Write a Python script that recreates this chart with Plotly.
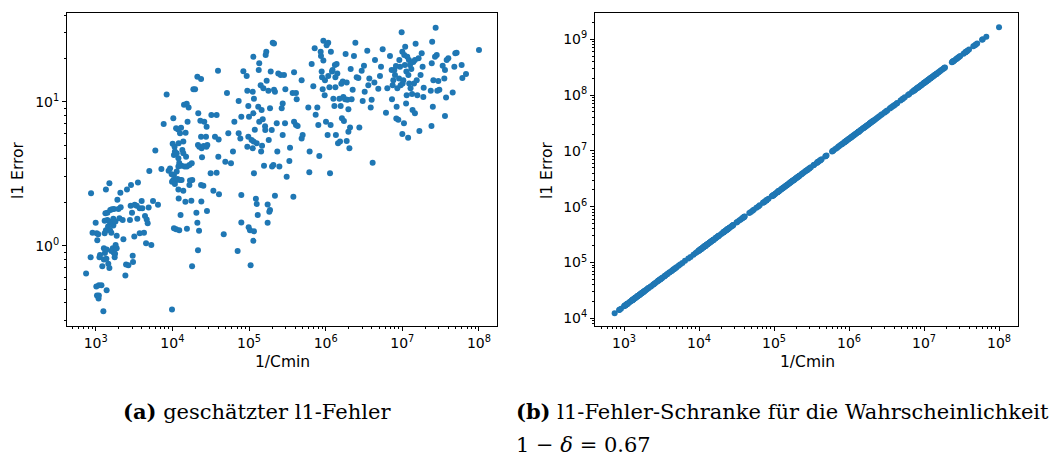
import plotly.graph_objects as go

# 1/Cmin values (shared by both panels)
cmin_inv = [
    750, 870, 860, 910, 1000, 1030, 1050, 1080, 1020, 1100,
    1190, 1040, 1090, 1100, 1260, 1390, 1140, 1120, 1220, 1280,
    1320, 1380, 1460, 1510, 1280, 1390, 1360, 1510, 1340, 1420,
    1310, 1360, 1450, 1540, 1600, 1700, 1550, 1630, 1730, 1310,
    1420, 1510, 1620, 1700, 1810, 1670, 1600, 1730, 1790, 1770,
    1880, 1820, 1880, 1920, 1980, 2040, 2120, 2100, 2250, 2300,
    2440, 2490, 2670, 2560, 2890, 2860, 2800, 2980, 3040, 3070,
    3190, 3230, 3430, 3490, 3560, 3750, 3750, 3980, 4060, 4270,
    4400, 4540, 4630, 4770, 4910, 5010, 5320, 5600, 6000, 6500,
    8430, 7710, 7200, 8950, 9330, 9800, 10300, 10100, 10700, 9900,
    10300, 10500, 10800, 11200, 11400, 11900, 12100, 12600, 13000, 12000,
    12300, 12000, 11400, 10500, 11400, 10800, 11700, 12600, 13200, 12000,
    12100, 12800, 10500, 11200, 12300, 14200, 15400, 16300, 15800, 14900,
    13900, 13500, 13900, 15100, 13200, 14500, 15500, 16700, 17900, 17000,
    18200, 13900, 14800, 17700, 16700, 15500, 18800, 19800, 21200, 23700,
    21800, 23200, 26100, 28000, 21600, 22500, 24100, 25600, 27800, 28600,
    23700, 27500, 24400, 23700, 25400, 23900, 20600, 21200, 22300, 21600,
    18100, 28300, 31600, 32300, 36000, 40200, 37800, 39400, 39800, 37800,
    34300, 40600, 46800, 51600, 49100, 53700, 58200, 61800, 64400, 9900,
    71100, 73300, 73300, 77100, 79400, 79400, 79400, 84400, 93300, 95100,
    98000, 100000, 98000, 95100, 99000, 103000, 105000, 108000, 112000, 114000,
    112000, 116000, 114000, 119000, 115000, 116000, 114000, 116000, 123000, 126000,
    130000, 126000, 132000, 136000, 134000, 136000, 142000, 146000, 144000, 148000,
    151000, 154000, 157000, 162000, 163000, 165000, 168000, 170000, 179000, 181000,
    175000, 188000, 175000, 184000, 188000, 192000, 204000, 212000, 200000, 198000,
    212000, 218000, 208000, 218000, 230000, 234000, 241000, 249000, 259000, 267000,
    275000, 286000, 298000, 275000, 295000, 310000, 336000, 343000, 371000, 387000,
    387000, 410000, 410000, 419000, 379000, 431000, 486000, 486000, 501000, 594000,
    618000, 612000, 657000, 690000, 719000, 741000, 778000, 802000, 826000, 869000,
    861000, 896000, 914000, 933000, 887000, 933000, 971000, 980000, 1.03e6, 1.01e6,
    1.06e6, 1.08e6, 1.08e6, 1.12e6, 1.14e6, 1.16e6, 1.17e6, 1.21e6, 1.23e6, 1.26e6,
    1.30e6, 1.32e6, 1.34e6, 1.34e6, 1.36e6, 1.39e6, 1.42e6, 1.45e6, 1.51e6, 1.54e6,
    1.57e6, 1.60e6, 1.63e6, 1.67e6, 1.70e6, 1.73e6, 1.79e6, 1.82e6, 1.88e6, 1.88e6,
    1.92e6, 1.98e6, 1.98e6, 2.04e6, 2.08e6, 2.12e6, 2.18e6, 2.25e6, 2.34e6, 2.44e6,
    2.54e6, 2.67e6, 2.75e6, 2.95e6, 3.04e6, 3.16e6, 3.23e6, 3.49e6, 3.60e6, 3.71e6,
    3.87e6, 3.98e6, 4.10e6, 4.32e6, 4.40e6, 4.86e6, 5.11e6, 5.27e6, 5.54e6, 6.12e6,
    6.37e6, 6.90e6, 7.26e6, 7.33e6, 7.63e6, 7.48e6, 7.87e6, 8.02e6, 8.26e6, 8.35e6,
    8.43e6, 8.87e6, 8.61e6, 9.06e6, 9.14e6, 9.33e6, 9.51e6, 9.80e6, 1.00e7, 1.00e7,
    1.01e7, 1.03e7, 1.05e7, 1.06e7, 1.08e7, 1.09e7, 1.12e7, 1.13e7, 1.14e7, 1.16e7,
    1.19e7, 1.20e7, 1.22e7, 1.23e7, 1.26e7, 1.28e7, 1.31e7, 1.34e7, 1.36e7, 1.39e7,
    1.42e7, 1.46e7, 1.46e7, 1.49e7, 1.54e7, 1.57e7, 1.63e7, 1.67e7, 1.73e7, 1.79e7,
    1.84e7, 1.88e7, 1.90e7, 2.35e7, 2.40e7, 2.45e7, 2.50e7, 2.42e7, 2.54e7, 2.67e7,
    2.72e7, 2.81e7, 2.86e7, 2.95e7, 3.04e7, 3.36e7, 3.53e7, 3.60e7, 3.60e7, 3.72e7,
    3.79e7, 3.98e7, 4.54e7, 4.77e7, 4.91e7, 5.11e7, 5.94e7, 6.07e7, 6.77e7, 1.00e8,
]

# (a) estimated l1 error
l1_error = [
    0.64, 2.31, 0.83, 1.23, 1.44, 1.22, 1.09, 1.20, 0.52, 0.53,
    0.53, 0.45, 0.43, 0.45, 0.35, 0.49, 0.86, 0.83, 0.72, 0.80,
    0.89, 0.81, 0.75, 0.70, 0.96, 0.94, 2.46, 2.71, 1.68, 1.69,
    1.22, 1.28, 1.36, 1.28, 1.23, 1.38, 1.77, 1.79, 1.80, 1.49,
    1.51, 1.47, 1.44, 1.54, 1.47, 0.96, 0.92, 0.89, 0.88, 0.83,
    0.96, 1.01, 1.17, 2.08, 1.80, 1.55, 1.85, 2.33, 1.51, 1.11,
    0.62, 0.74, 0.73, 2.46, 2.64, 1.89, 1.51, 1.69, 0.85, 0.77,
    1.16, 1.92, 1.89, 1.54, 2.75, 1.82, 1.22, 2.04, 1.82, 1.23,
    1.61, 1.04, 1.52, 1.43, 1.84, 3.30, 1.01, 2.04, 4.59, 1.92,
    11.2, 7.0, 3.41, 3.32, 3.44, 3.13, 7.66, 5.11, 4.87, 2.78,
    2.86, 4.26, 4.50, 6.53, 4.38, 6.42, 5.14, 6.03, 6.6, 4.04,
    3.75, 3.54, 3.27, 3.10, 2.86, 2.68, 2.9, 2.86, 2.86, 2.46,
    2.13, 1.63, 1.32, 1.30, 1.28, 9.53, 9.68, 9.13, 7.26, 6.09,
    5.28, 4.62, 4.38, 4.15, 3.59, 3.54, 3.54, 3.63, 3.73, 2.83,
    2.86, 2.41, 2.02, 2.05, 2.64, 1.31, 12.2, 12.2, 14.9, 14.4,
    8.3, 7.38, 7.26, 6.70, 5.0, 4.87, 4.74, 4.92, 4.87, 5.0,
    5.71, 5.71, 4.11, 2.64, 2.61, 2.03, 1.69, 1.44, 1.27, 0.93,
    0.72, 1.74, 3.18, 8.08, 5.71, 5.47, 8.08, 16.4, 4.15, 3.21,
    2.41, 2.28, 1.20, 11.5, 3.83, 6.03, 3.73, 4.50, 7.26, 0.36,
    0.92, 6.03, 10.1, 5.56, 7.87, 2.25, 1.45, 16.3, 15.1, 11.9,
    9.33, 7.87, 5.71, 4.87, 1.34, 1.28, 0.73, 5.42, 4.74, 20.5,
    11.7, 10.5, 8.3, 6.39, 5.28, 3.18, 1.08, 1.26, 2.12, 1.95,
    1.63, 5.14, 9.23, 7.26, 16.6, 18.5, 13.0, 8.75, 4.50, 4.95,
    7.54, 12.4, 3.59, 6.74, 6.36, 21.1, 22.2, 14.0, 11.9, 5.42,
    1.93, 1.77, 1.44, 1.72, 8.99, 16.2, 25.7, 25.4, 3.54, 6.36,
    12.1, 11.7, 3.63, 2.22, 7.07, 4.50, 15.7, 3.54, 15.3, 8.99,
    9.73, 15.3, 12.2, 5.87, 7.07, 3.01, 3.87, 4.79, 11.5, 16.0,
    7.26, 11.5, 6.89, 10.4, 2.19, 6.78, 14.1, 5.56, 5.87, 9.13,
    4.50, 3.23, 18.3, 12.8, 23.5, 8.12, 9.13, 6.89, 4.19, 20.8,
    22.2, 14.8, 12.2, 26.5, 16.2, 19.3, 11.1, 14.1, 24.7, 7.26,
    5.87, 25.7, 15.1, 12.6, 3.18, 6.89, 22.2, 16.2, 16.6, 10.5,
    9.33, 18.0, 14.8, 12.6, 5.87, 18.3, 15.7, 5.14, 10.5, 5.28,
    9.33, 13.3, 7.66, 13.8, 10.8, 7.34, 10.4, 21.4, 13.6, 5.33,
    10.3, 6.19, 8.85, 4.74, 6.63, 16.9, 10.4, 12.1, 20.8, 25.7,
    14.8, 14.6, 6.63, 16.4, 10.1, 17.8, 11.7, 22.6, 13.0, 14.5,
    9.13, 10.3, 3.77, 13.6, 19.5, 12.3, 15.1, 17.5, 23.1, 8.39,
    12.4, 20.8, 16.6, 10.4, 14.1, 13.0, 16.6, 15.3, 17.7, 7.63,
    9.23, 7.5, 12.4, 14.5, 19.5, 17.5, 13.0, 30.3, 22.2, 5.96,
    13.4, 14.1, 7.07, 21.1, 18.0, 24.1, 9.73, 16.2, 11.1, 20.5,
    5.62, 15.3, 19.5, 13.4, 18.0, 12.4, 16.9, 11.3, 8.75, 18.9,
    13.4, 8.3, 19.5, 25.3, 14.1, 11.1, 20.0, 6.26, 15.3, 21.7,
    17.5, 10.8, 12.5, 11.9, 6.78, 26.1, 9.23, 18.5, 14.1, 20.5,
    32.6, 21.1, 11.9, 13.9, 12.1, 17.8, 14.5, 16.6, 7.95, 10.7,
    19.5, 20.0, 11.6, 17.5, 21.7, 21.9, 18.0, 14.6, 15.6, 22.9,
]

# (b) l1 error bound for probability 1 - delta = 0.67
l1_bound = [
    1.23e4, 1.43e4, 1.41e4, 1.49e4, 1.64e4, 1.69e4, 1.72e4, 1.77e4, 1.67e4, 1.80e4,
    1.95e4, 1.71e4, 1.79e4, 1.80e4, 2.07e4, 2.28e4, 1.87e4, 1.84e4, 2.00e4, 2.10e4,
    2.16e4, 2.26e4, 2.39e4, 2.48e4, 2.10e4, 2.28e4, 2.23e4, 2.48e4, 2.20e4, 2.33e4,
    2.15e4, 2.23e4, 2.38e4, 2.53e4, 2.62e4, 2.79e4, 2.54e4, 2.67e4, 2.84e4, 2.15e4,
    2.33e4, 2.48e4, 2.66e4, 2.79e4, 2.97e4, 2.74e4, 2.62e4, 2.84e4, 2.94e4, 2.90e4,
    3.08e4, 2.98e4, 3.08e4, 3.15e4, 3.25e4, 3.35e4, 3.48e4, 3.44e4, 3.69e4, 3.77e4,
    4.00e4, 4.08e4, 4.38e4, 4.20e4, 4.74e4, 4.69e4, 4.59e4, 4.89e4, 4.99e4, 5.03e4,
    5.23e4, 5.30e4, 5.63e4, 5.72e4, 5.84e4, 6.15e4, 6.15e4, 6.53e4, 6.66e4, 7.00e4,
    7.22e4, 7.45e4, 7.59e4, 7.82e4, 8.05e4, 8.22e4, 8.72e4, 9.18e4, 9.84e4, 1.07e5,
    1.38e5, 1.26e5, 1.18e5, 1.47e5, 1.53e5, 1.61e5, 1.69e5, 1.66e5, 1.75e5, 1.62e5,
    1.69e5, 1.72e5, 1.77e5, 1.84e5, 1.87e5, 1.95e5, 1.98e5, 2.07e5, 2.13e5, 1.97e5,
    2.02e5, 1.97e5, 1.87e5, 1.72e5, 1.87e5, 1.77e5, 1.92e5, 2.07e5, 2.16e5, 1.97e5,
    1.98e5, 2.10e5, 1.72e5, 1.84e5, 2.02e5, 2.33e5, 2.53e5, 2.67e5, 2.59e5, 2.44e5,
    2.28e5, 2.21e5, 2.28e5, 2.48e5, 2.16e5, 2.38e5, 2.54e5, 2.74e5, 2.94e5, 2.79e5,
    2.98e5, 2.28e5, 2.43e5, 2.90e5, 2.74e5, 2.54e5, 3.08e5, 3.25e5, 3.48e5, 3.89e5,
    3.58e5, 3.80e5, 4.28e5, 4.59e5, 3.54e5, 3.69e5, 3.95e5, 4.20e5, 4.56e5, 4.69e5,
    3.89e5, 4.51e5, 4.00e5, 3.89e5, 4.17e5, 3.92e5, 3.38e5, 3.48e5, 3.66e5, 3.54e5,
    2.97e5, 4.64e5, 5.18e5, 5.30e5, 5.90e5, 6.59e5, 6.20e5, 6.46e5, 6.53e5, 6.20e5,
    5.63e5, 6.66e5, 7.68e5, 8.46e5, 8.05e5, 8.81e5, 9.54e5, 1.01e6, 1.06e6, 1.62e5,
    1.17e6, 1.20e6, 1.20e6, 1.26e6, 1.30e6, 1.30e6, 1.30e6, 1.38e6, 1.53e6, 1.56e6,
    1.61e6, 1.64e6, 1.61e6, 1.56e6, 1.62e6, 1.69e6, 1.72e6, 1.77e6, 1.84e6, 1.87e6,
    1.84e6, 1.90e6, 1.87e6, 1.95e6, 1.89e6, 1.90e6, 1.87e6, 1.90e6, 2.02e6, 2.07e6,
    2.13e6, 2.07e6, 2.16e6, 2.23e6, 2.20e6, 2.23e6, 2.33e6, 2.39e6, 2.36e6, 2.43e6,
    2.48e6, 2.53e6, 2.57e6, 2.66e6, 2.67e6, 2.71e6, 2.76e6, 2.79e6, 2.94e6, 2.97e6,
    2.87e6, 3.08e6, 2.87e6, 3.02e6, 3.08e6, 3.15e6, 3.35e6, 3.48e6, 3.28e6, 3.25e6,
    3.48e6, 3.58e6, 3.41e6, 3.58e6, 3.77e6, 3.84e6, 3.95e6, 4.08e6, 4.25e6, 4.38e6,
    4.51e6, 4.69e6, 4.89e6, 4.51e6, 4.84e6, 5.08e6, 5.51e6, 5.63e6, 6.08e6, 6.35e6,
    6.35e6, 6.72e6, 6.72e6, 6.87e6, 6.22e6, 7.07e6, 7.97e6, 7.97e6, 8.22e6, 9.74e6,
    1.01e7, 1.00e7, 1.08e7, 1.13e7, 1.18e7, 1.22e7, 1.28e7, 1.32e7, 1.35e7, 1.43e7,
    1.41e7, 1.47e7, 1.50e7, 1.53e7, 1.45e7, 1.53e7, 1.59e7, 1.61e7, 1.69e7, 1.66e7,
    1.74e7, 1.77e7, 1.77e7, 1.84e7, 1.87e7, 1.90e7, 1.92e7, 1.98e7, 2.02e7, 2.07e7,
    2.13e7, 2.16e7, 2.20e7, 2.20e7, 2.23e7, 2.28e7, 2.33e7, 2.38e7, 2.48e7, 2.53e7,
    2.57e7, 2.62e7, 2.67e7, 2.74e7, 2.79e7, 2.84e7, 2.94e7, 2.98e7, 3.08e7, 3.08e7,
    3.15e7, 3.25e7, 3.25e7, 3.35e7, 3.41e7, 3.48e7, 3.58e7, 3.69e7, 3.84e7, 4.00e7,
    4.17e7, 4.38e7, 4.51e7, 4.84e7, 4.99e7, 5.18e7, 5.30e7, 5.72e7, 5.90e7, 6.08e7,
    6.35e7, 6.53e7, 6.72e7, 7.08e7, 7.22e7, 7.97e7, 8.38e7, 8.64e7, 9.09e7, 1.00e8,
    1.04e8, 1.13e8, 1.19e8, 1.20e8, 1.25e8, 1.23e8, 1.29e8, 1.32e8, 1.35e8, 1.37e8,
    1.38e8, 1.45e8, 1.41e8, 1.49e8, 1.50e8, 1.53e8, 1.56e8, 1.61e8, 1.64e8, 1.64e8,
    1.66e8, 1.69e8, 1.72e8, 1.74e8, 1.77e8, 1.79e8, 1.84e8, 1.85e8, 1.87e8, 1.90e8,
    1.95e8, 1.97e8, 2.00e8, 2.02e8, 2.07e8, 2.10e8, 2.15e8, 2.20e8, 2.23e8, 2.28e8,
    2.33e8, 2.39e8, 2.39e8, 2.44e8, 2.53e8, 2.57e8, 2.67e8, 2.74e8, 2.84e8, 2.94e8,
    3.02e8, 3.08e8, 3.12e8, 3.85e8, 3.94e8, 4.02e8, 4.10e8, 3.97e8, 4.17e8, 4.38e8,
    4.46e8, 4.61e8, 4.69e8, 4.84e8, 4.99e8, 5.51e8, 5.79e8, 5.90e8, 5.90e8, 6.10e8,
    6.22e8, 6.53e8, 7.45e8, 7.82e8, 8.05e8, 8.38e8, 9.74e8, 9.95e8, 1.11e9, 1.64e9,
]

# tick positions / labels
x_tickvals = [1e3, 1e4, 1e5, 1e6, 1e7, 1e8]
x_ticktext = ["10<sup>3</sup>", "10<sup>4</sup>", "10<sup>5</sup>",
              "10<sup>6</sup>", "10<sup>7</sup>", "10<sup>8</sup>"]
ya_tickvals = [1, 10]
ya_ticktext = ["10<sup>0</sup>", "10<sup>1</sup>"]
yb_tickvals = [1e4, 1e5, 1e6, 1e7, 1e8, 1e9]
yb_ticktext = ["10<sup>4</sup>", "10<sup>5</sup>", "10<sup>6</sup>",
               "10<sup>7</sup>", "10<sup>8</sup>", "10<sup>9</sup>"]

x_title = "1/Cmin"
y_title = "l1 Error"
caption_a = "<b>(a)</b> geschätzter l1-Fehler"
caption_b1 = "<b>(b)</b> l1-Fehler-Schranke für die Wahrscheinlichkeit"
caption_b2 = "1 − <i>δ</i> = 0.67"

W, H = 1052, 459
BLUE = "#1f77b4"

minor_vals = [m * 10.0 ** e for e in range(-2, 11) for m in range(2, 10)]

fig = go.Figure()
fig.add_trace(go.Scatter(x=cmin_inv, y=l1_error, mode="markers",
                         marker=dict(color=BLUE, size=6, line=dict(width=0)),
                         xaxis="x", yaxis="y", showlegend=False))
fig.add_trace(go.Scatter(x=cmin_inv, y=l1_bound, mode="markers",
                         marker=dict(color=BLUE, size=6, line=dict(width=0)),
                         xaxis="x2", yaxis="y2", showlegend=False))


def ax(domain, rng, anchor, tv, tt):
    return dict(
        type="log", domain=domain, range=rng, anchor=anchor,
        showline=True, linecolor="black", linewidth=1, mirror=True,
        ticks="outside", ticklen=4, tickwidth=1, tickcolor="black",
        showgrid=False, zeroline=False,
        tickmode="array", tickvals=tv, ticktext=tt,
        tickfont=dict(family="DejaVu Sans", size=14, color="black"),
        minor=dict(tickmode="array", tickvals=minor_vals, ticks="outside",
                   ticklen=2, tickwidth=0.8, tickcolor="black", showgrid=False),
    )


ydom = [1 - 326 / H, 1 - 13 / H]
fig.update_layout(
    width=W, height=H, autosize=False,
    margin=dict(l=0, r=0, t=0, b=0),
    paper_bgcolor="white", plot_bgcolor="white",
    xaxis=ax([67 / W, 497 / W], [2.626, 8.235], "y", x_tickvals, x_ticktext),
    yaxis=ax(ydom, [-0.558, 1.616], "x", ya_tickvals, ya_ticktext),
    xaxis2=ax([595 / W, 1018 / W], [2.613, 8.253], "y2", x_tickvals, x_ticktext),
    yaxis2=ax(ydom, [3.862, 9.47], "x2", yb_tickvals, yb_ticktext),
)

title_font = dict(family="DejaVu Sans", size=15.5, color="black")
cap_font = dict(family="DejaVu Serif", size=21, color="black")
anns = [
    dict(text=x_title, x=282 / W, y=1 - 362 / H, xanchor="center", yanchor="middle", font=title_font),
    dict(text=x_title, x=807 / W, y=1 - 362 / H, xanchor="center", yanchor="middle", font=title_font),
    dict(text=y_title, x=18 / W, y=1 - 170 / H, xanchor="center", yanchor="middle", textangle=-90, font=title_font),
    dict(text=y_title, x=547 / W, y=1 - 170 / H, xanchor="center", yanchor="middle", textangle=-90, font=title_font),
    dict(text=caption_a, x=257 / W, y=1 - 411 / H, xanchor="center", yanchor="middle", font=cap_font),
    dict(text=caption_b1, x=514 / W, y=1 - 411 / H, xanchor="left", yanchor="middle", font=cap_font),
    dict(text=caption_b2, x=514 / W, y=1 - 445 / H, xanchor="left", yanchor="middle", font=cap_font),
]
for a in anns:
    a.update(xref="paper", yref="paper", showarrow=False)
fig.update_layout(annotations=anns)

fig.write_html("out.html",
               config={"displayModeBar": False},
               post_script="document.body.style.margin='0';document.body.style.overflow='hidden';")
